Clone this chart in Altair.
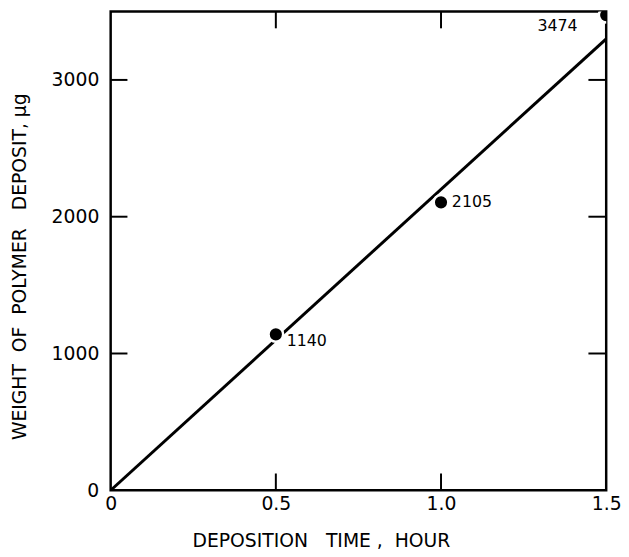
import altair as alt
import pandas as pd

# data
time_h = [0.5, 1.0, 1.5]
weight_ug = [1140, 2105, 3474]
labels = ["1140", "2105", "3474"]

fit_time = [0.0, 1.5]
fit_weight = [0, 3300]

y_ticks = [1000, 2000, 3000]
x_ticks = [0.5, 1.0]

pts = pd.DataFrame({"t": time_h, "w": weight_ug, "lab": labels})
fit = pd.DataFrame({"t": fit_time, "w": fit_weight})
yt = pd.DataFrame({"w": y_ticks})
xt = pd.DataFrame({"t": x_ticks})

FONT = "DejaVu Sans"
W, H = 502, 485
NB = "\u00a0"

xscale = alt.Scale(domain=[0, 1.5], nice=False, zero=False)
yscale = alt.Scale(domain=[0, 3500], nice=False, zero=False)

xaxis = alt.Axis(
    values=[0, 0.5, 1.0, 1.5],
    labelExpr="datum.value == 0 ? '0' : format(datum.value, '.1f')",
    ticks=False, domain=False, grid=False,
    labelPadding=4, labelFont=FONT, labelFontSize=19, labelColor="black",
    labelFlush=False,
    title=f"DEPOSITION{NB}{NB}{NB}TIME{NB},{NB}{NB}HOUR",
    titleFont=FONT, titleFontSize=19,
    titleFontWeight="normal", titleColor="black",
    titleX=213, titleY=51, titleBaseline="middle", titleAlign="center",
)
yaxis = alt.Axis(
    values=[0, 1000, 2000, 3000], format="d",
    ticks=False, domain=False, grid=False,
    labelPadding=12, labelFont=FONT, labelFontSize=19, labelColor="black",
    labelFlush=False,
    title=f"WEIGHT{NB}{NB}OF{NB}{NB}POLYMER{NB}{NB}{NB}DEPOSIT,{NB}µg",
    titleFont=FONT, titleFontSize=19,
    titleFontWeight="normal", titleColor="black",
    titleX=-92, titleY=258, titleAngle=-90, titleBaseline="middle", titleAlign="center",
)

line = alt.Chart(fit).mark_line(color="black", strokeWidth=3, clip=True).encode(
    x=alt.X("t:Q", scale=xscale, axis=xaxis),
    y=alt.Y("w:Q", scale=yscale, axis=yaxis),
)

points = alt.Chart(pts).mark_point(
    filled=True, size=220, opacity=1, clip=True,
    stroke="white", strokeWidth=2.5, strokeOpacity=1,
).encode(
    x=alt.X("t:Q", scale=xscale),
    y=alt.Y("w:Q", scale=yscale),
    fill=alt.value("black"),
)

txt_common = dict(font=FONT, fontSize=16, color="black", baseline="middle")
lab1 = alt.Chart(pts).transform_filter("datum.lab == '1140'").mark_text(
    align="left", dx=11, dy=7, **txt_common
).encode(x=alt.X("t:Q", scale=xscale), y=alt.Y("w:Q", scale=yscale), text="lab:N")
lab2 = alt.Chart(pts).transform_filter("datum.lab == '2105'").mark_text(
    align="left", dx=11, dy=0, **txt_common
).encode(x=alt.X("t:Q", scale=xscale), y=alt.Y("w:Q", scale=yscale), text="lab:N")
lab3 = alt.Chart(pts).transform_filter("datum.lab == '3474'").mark_text(
    align="right", dx=-29, dy=11, **txt_common
).encode(x=alt.X("t:Q", scale=xscale), y=alt.Y("w:Q", scale=yscale), text="lab:N")

tk = dict(color="black", strokeWidth=2)
left_ticks = alt.Chart(yt).mark_rule(**tk).encode(
    y=alt.Y("w:Q", scale=yscale), x=alt.value(0), x2=alt.value(17))
right_ticks = alt.Chart(yt).mark_rule(**tk).encode(
    y=alt.Y("w:Q", scale=yscale), x=alt.value(W - 18), x2=alt.value(W))
bottom_ticks = alt.Chart(xt).mark_rule(**tk).encode(
    x=alt.X("t:Q", scale=xscale), y=alt.value(H - 17), y2=alt.value(H))
top_ticks = alt.Chart(xt).mark_rule(**tk).encode(
    x=alt.X("t:Q", scale=xscale), y=alt.value(0), y2=alt.value(17))

chart = alt.layer(
    left_ticks, right_ticks, bottom_ticks, top_ticks,
    line, points, lab1, lab2, lab3,
).properties(
    width=W, height=H,
    background="white",
    autosize=alt.AutoSizeParams(type="none"),
    padding={"left": 104, "top": 0, "right": 15, "bottom": 63},
).configure_view(
    stroke="black", strokeWidth=2.5
)

chart.save("out.html", embed_options={"renderer": "svg", "actions": False})
